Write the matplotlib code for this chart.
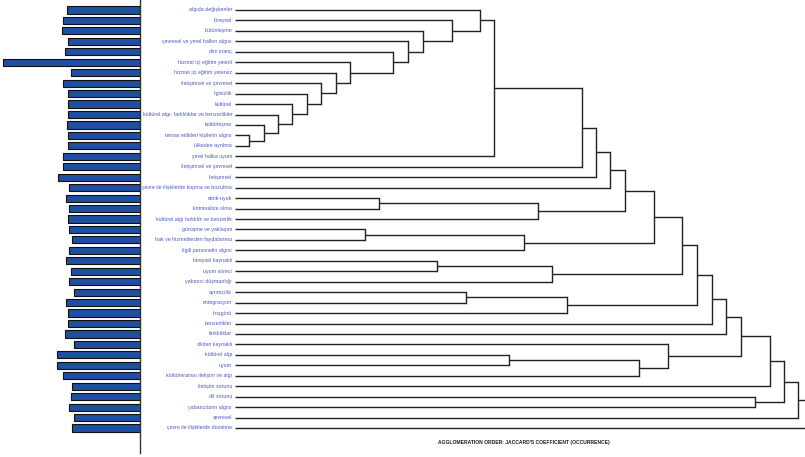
import matplotlib
matplotlib.use("Agg")
from matplotlib import pyplot as plt

# etiketler (yukaridan asagiya)
labels = [
    "algıda değişkenler", "bireysel", "bütünleşme", "çevresel ve yerel halkın algısı",
    "dini inanç", "hizmet içi eğitim yeterli", "hizmet içi eğitim yetersiz",
    "iletişimsel ve çevresel", "ilgisizlik", "kültürel",
    "kültürel algı- farklılıklar ve benzerlikler", "kültürleşme",
    "temas ettikleri kişilerin algısı", "ülkeden ayrılma", "yerel halka uyum",
    "iletişimsel ve çevresel", "iletişimsel", "çevre ile ilişkilerde kopma ve bozulma",
    "etnik-uyuk", "kriminalize olma", "kültürel algı farklılık ve benzerlik",
    "görüşme ve yaklaşım", "hak ve hizmetlerden faydalanma", "ilgili personelin algısı",
    "bireysel kaynaklı", "uyum süreci", "yabancı düşmanlığı", "ayrımcılık",
    "entegrasyon", "hoşgörü", "benzerlikler", "farklılıklar", "dilden kaynaklı",
    "kültürel algı", "uyum", "kültürlerarası iletişim ve algı", "iletişim sorunu",
    "dil sorunu", "yabancıların algısı", "çevresel", "çevre ile ilişkilerde düzelme",
]

# sol taraftaki cubuklar (gorunme sayisi, tahmini)
occurrence = [73, 77, 78, 72, 75, 137, 69, 77, 72, 72, 72, 73, 72, 72, 77, 77, 82,
              71, 74, 71, 72, 71, 68, 71, 74, 69, 71, 66, 74, 72, 72, 75, 66, 83,
              83, 77, 68, 69, 71, 66, 68]

# birlesmeler: (sol, sag, seviye); 0..40 yaprak, 41.. birlesme dugumleri
merges = [
    (12, 13, 0.025), (11, 41, 0.050), (10, 42, 0.075), (9, 43, 0.100),
    (8, 44, 0.126), (7, 45, 0.150), (6, 46, 0.177), (5, 47, 0.202),
    (4, 48, 0.278), (3, 49, 0.304), (2, 50, 0.329), (1, 51, 0.380),
    (0, 52, 0.430), (53, 14, 0.455),          # 54
    (18, 19, 0.253), (55, 20, 0.532),         # 55, 56
    (21, 22, 0.228), (57, 23, 0.507),         # 57, 58
    (24, 25, 0.354), (59, 26, 0.557),         # 59, 60
    (27, 28, 0.405), (61, 29, 0.583),         # 61, 62
    (33, 34, 0.481), (63, 35, 0.709), (32, 64, 0.760),   # 63, 64, 65
    (37, 38, 0.913),                          # 66
    (54, 15, 0.608), (67, 16, 0.633), (68, 17, 0.658), (69, 56, 0.684),
    (70, 58, 0.735), (71, 60, 0.785), (72, 62, 0.811), (73, 30, 0.836),
    (74, 31, 0.862), (75, 65, 0.888), (76, 36, 0.938), (77, 66, 0.964),
    (78, 39, 0.988), (79, 40, 1.020),
]

fig = plt.figure(figsize=(8.05, 4.57), dpi=100)
W, H = 805, 457
top_px, bot_px = 0, 453
pitch = 10.45
y_top = -10 / pitch
y_bot = (bot_px - 10) / pitch

# cubuk paneli
axb = fig.add_axes([0, (H - bot_px) / H, 140 / W, (bot_px - top_px) / H])
rows = list(range(len(labels)))
axb.barh(rows, occurrence, height=0.68, color="#1f4fa0", edgecolor="#111111", linewidth=0.8)
axb.set_xlim(140, 0)
axb.set_ylim(y_bot, y_top)
for s in ["top", "left", "bottom"]:
    axb.spines[s].set_visible(False)
axb.spines["right"].set_color("#333333")
axb.spines["right"].set_linewidth(1.0)
axb.set_xticks([])
axb.set_yticks([])

# dendrogram paneli
axd = fig.add_axes([235 / W, (H - bot_px) / H, 570 / W, (bot_px - top_px) / H])
axd.set_xlim(0, 1.0)
axd.set_ylim(y_bot, y_top)
axd.axis("off")

pos_y = {i: float(i) for i in rows}
pos_x = {i: 0.0 for i in rows}
n = len(labels)
for k, (a, b, lev) in enumerate(merges):
    node = n + k
    ya, yb = pos_y[a], pos_y[b]
    axd.plot([pos_x[a], lev], [ya, ya], color="#222222", lw=1.0, solid_capstyle="butt")
    axd.plot([pos_x[b], lev], [yb, yb], color="#222222", lw=1.0, solid_capstyle="butt")
    axd.plot([lev, lev], [ya, yb], color="#222222", lw=1.0)
    pos_y[node] = (ya + yb) / 2
    pos_x[node] = lev

for i, lab in enumerate(labels):
    fig.text(232 / W, 1 - (10 + i * pitch) / H, lab, ha="right", va="center",
             fontsize=3.8, color="#4a5dbf", family=["Liberation Sans", "DejaVu Sans"])

fig.text(524 / W, 1 - 442.5 / H, "AGGLOMERATION ORDER: JACCARD'S COEFFICIENT (OCCURRENCE)",
         ha="center", va="center", fontsize=3.6, fontweight="bold", color="#1a1a2a",
         family=["Liberation Sans", "DejaVu Sans"])

fig.savefig("out.png", dpi=100)
